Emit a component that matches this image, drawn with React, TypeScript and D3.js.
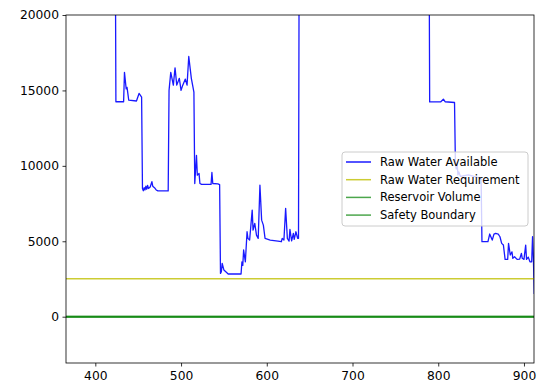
import { useRef, useEffect } from 'react';
import * as d3 from 'd3';

// day index for raw water available series
const days = [
  423, 424, 433, 434, 436, 437, 439, 448, 451, 454,
  455, 456, 457, 458, 459, 460, 461, 462, 464, 466, 467, 469, 471, 473, 485,
  486, 488, 491, 493, 495, 498, 500, 502, 505, 507, 509, 512, 515,
  516, 518, 519, 521, 522, 524, 535, 536, 537, 543, 545,
  546, 547, 548, 550, 555, 570,
  571, 572, 573, 575, 577, 578, 580, 583, 584, 586, 588, 590, 592, 594, 596, 598,
  604, 613, 617, 618, 620, 622, 624, 626, 627, 629, 631, 632, 634, 636, 637,
  638, 700, 789,
  790, 803, 806, 808, 819,
  820, 821, 822, 823, 824, 826, 835, 845, 850,
  851, 858, 860, 863, 865, 867, 870, 872, 874, 876, 878, 881, 882, 884, 886, 887, 889,
  892, 895, 897, 898, 900, 902, 903, 905, 907, 909, 910, 911, 912,
];

const rawWaterAvailable = [
  30000, 14250, 14250, 16200, 15100, 15200, 14350, 14300, 14800, 14550,
  8500, 8350, 8550, 8400, 8650, 8450, 8700, 8500, 8600, 8950, 8650, 8550, 8400, 8340, 8340,
  15000, 16200, 15350, 16500, 15350, 15800, 15000, 15350, 15750, 15350, 17250, 15800, 14880,
  8830, 10700, 9380, 9500, 8830, 8770, 8770, 9560, 8830, 8800, 8750,
  2870, 2980, 3535, 3090, 2830, 2830,
  3640, 3400, 4420, 3640, 5630, 5190, 5080, 7070, 5740, 6185, 5410, 5190, 8720, 6400, 6070, 5190,
  5080, 5010, 4970, 5190, 5080, 7180, 5190, 5010, 5790, 5030, 5520, 5120, 5630, 5190, 5200,
  30000, 35000, 30000,
  14240, 14250, 14420, 14250, 14200,
  10180, 9800, 10200, 9400, 9600, 9300, 9400, 9250, 9200,
  4970, 4970, 5480, 5080, 5470, 5520, 5470, 5300, 4860, 4750, 3800, 3800, 4860, 4090, 4300, 3870, 3970,
  3800, 3820, 4200, 3870, 3800, 4750, 3800, 3950, 3640, 3640, 5300, 3900, 1500,
];

// constant series span the whole window
const flatDays = [365, 912];
const rawWaterRequirement = [2520, 2520];
const reservoirVolume = [0, 0];
const safetyBoundary = [0, 0];

const xTicks = [400, 500, 600, 700, 800, 900];
const yTicks = [0, 5000, 10000, 15000, 20000];

const seriesNames = ['Raw Water Available', 'Raw Water Requirement', 'Reservoir Volume', 'Safety Boundary'];

const WaterChart = ({ width, height }) => {
  const svgRef = useRef(null);

  useEffect(() => {
    const svg = d3.select(svgRef.current);
    svg.selectAll('*').remove();

    const margin = { left: 66, right: width - 534, top: 15, bottom: height - 363 };
    const innerW = width - margin.left - margin.right;
    const innerH = height - margin.top - margin.bottom;
    const font = 'DejaVu Sans, sans-serif';

    const x = d3.scaleLinear().domain([365.8, 911.7]).range([0, innerW]);
    const y = d3.scaleLinear().domain([-3070, 20000]).range([innerH, 0]);

    const chart = svg.append('g').attr('transform', `translate(${margin.left},${margin.top})`);

    chart.append('clipPath').attr('id', 'plot-clip')
      .append('rect').attr('width', innerW).attr('height', innerH);

    const plot = chart.append('g').attr('clip-path', 'url(#plot-clip)');

    const line = d3.line().x(d => x(d[0])).y(d => y(d[1]));

    const lines = [
      { name: seriesNames[0], xs: days, ys: rawWaterAvailable, color: '#0000ff', w: 1.3, op: 0.9 },
      { name: seriesNames[1], xs: flatDays, ys: rawWaterRequirement, color: '#bfbf00', w: 1.5, op: 0.8 },
      { name: seriesNames[2], xs: flatDays, ys: reservoirVolume, color: '#008000', w: 2, op: 0.7 },
      { name: seriesNames[3], xs: flatDays, ys: safetyBoundary, color: '#008000', w: 2, op: 0.7 },
    ];

    lines.forEach(s => {
      plot.append('path')
        .datum(s.xs.map((d, i) => [d, s.ys[i]]))
        .attr('fill', 'none')
        .attr('stroke', s.color)
        .attr('stroke-opacity', s.op)
        .attr('stroke-width', s.w)
        .attr('stroke-linejoin', 'round')
        .attr('d', line);
    });

    // axes
    const xAxis = chart.append('g')
      .attr('transform', `translate(0,${innerH})`)
      .call(d3.axisBottom(x).tickValues(xTicks).tickSize(3.5).tickPadding(4.5).tickFormat(d3.format('d')));
    const yAxis = chart.append('g')
      .call(d3.axisLeft(y).tickValues(yTicks).tickSize(3.5).tickPadding(3.5).tickFormat(d3.format('d')));

    [xAxis, yAxis].forEach(a => {
      a.select('.domain').remove();
      a.selectAll('line').attr('stroke', '#000').attr('stroke-width', 0.8);
      a.selectAll('text').attr('font-family', font).attr('font-size', 12.3).attr('fill', '#000');
    });

    // frame
    chart.append('rect')
      .attr('width', innerW).attr('height', innerH)
      .attr('fill', 'none').attr('stroke', '#000').attr('stroke-width', 0.8);

    // legend
    const legend = chart.append('g').attr('transform', `translate(${342 - margin.left},${152 - margin.top})`);
    legend.append('rect')
      .attr('width', 186).attr('height', 74).attr('rx', 3)
      .attr('fill', '#fff').attr('fill-opacity', 0.8)
      .attr('stroke', '#ccc').attr('stroke-width', 1);

    lines.forEach((s, i) => {
      const row = legend.append('g').attr('transform', `translate(0,${10 + i * 17.7})`);
      row.append('line')
        .attr('x1', 4).attr('x2', 29)
        .attr('stroke', s.color).attr('stroke-opacity', s.op).attr('stroke-width', 1.5);
      row.append('text')
        .attr('x', 38).attr('dy', '0.35em')
        .attr('font-family', font).attr('font-size', 11.5).attr('fill', '#000')
        .text(s.name);
    });
  }, [width, height]);

  return <svg ref={svgRef} width={width} height={height} style={{ position: 'absolute', left: 0, top: 0, background: '#fff' }}></svg>;
};

export default function App() {
  return <WaterChart width={545} height={386} />;
}
